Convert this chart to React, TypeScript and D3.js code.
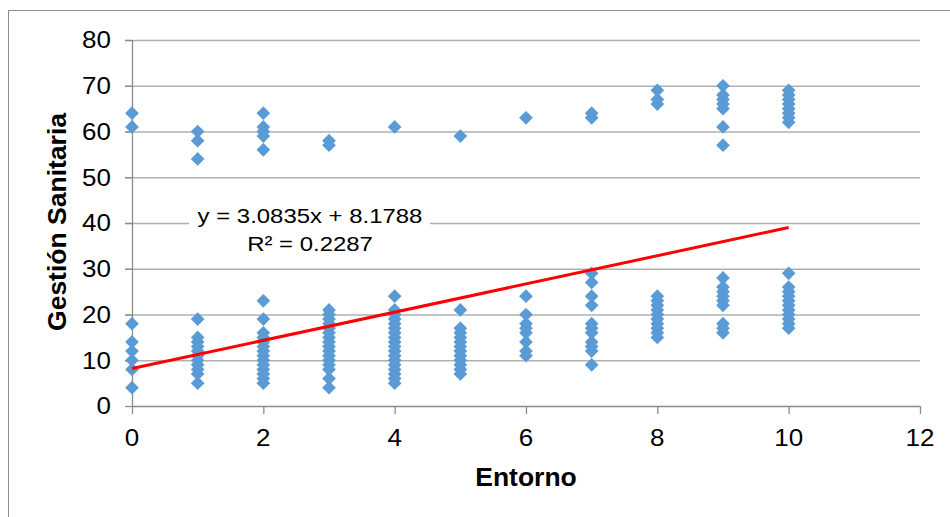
import React from "react";
import * as d3 from "d3";

// Entorno categories (x values)
const entorno = [0, 1, 2, 3, 4, 5, 6, 7, 8, 9, 10];

// Gestión Sanitaria values, low cluster per x
const gestionLow: number[][] = [
  [18, 14, 12, 10, 8, 4],
  [19, 15, 14, 13, 12, 11, 10, 9, 8, 7, 5],
  [23, 19, 16, 15, 14, 13, 12, 11, 10, 9, 8, 7, 6, 5],
  [21, 20, 19, 18, 17, 16, 15, 14, 13, 12, 11, 10, 9, 8, 6, 4],
  [24, 21, 20, 19, 18, 17, 16, 15, 14, 13, 12, 11, 10, 9, 8, 7, 6, 5],
  [21, 17, 16, 15, 14, 13, 12, 11, 10, 9, 8, 7],
  [24, 20, 18, 17, 16, 14, 12, 11],
  [29, 27, 24, 22, 18, 17, 16, 14, 13, 12, 9],
  [24, 23, 22, 21, 20, 19, 18, 17, 16, 15],
  [28, 26, 25, 24, 23, 22, 18, 17, 16],
  [29, 26, 25, 24, 23, 22, 21, 20, 19, 18, 17],
];

// Gestión Sanitaria values, high cluster per x
const gestionHigh: number[][] = [
  [64, 61],
  [60, 58, 54],
  [64, 61, 60, 59, 56],
  [58, 57],
  [61],
  [59],
  [63],
  [64, 63],
  [69, 67, 66],
  [70, 68, 67, 66, 65, 61, 57],
  [69, 68, 67, 66, 65, 64, 63, 62],
];

// Trendline (linear) reported by the chart
const slope = 3.0835;
const intercept = 8.1788;
const rSquared = 0.2287;
const trendRange = [0, 10];

const xTicks = [0, 2, 4, 6, 8, 10, 12];
const yTicks = [0, 10, 20, 30, 40, 50, 60, 70, 80];

const W = 950;
const H = 517;

export default function App() {
  const x = d3.scaleLinear().domain([0, 12]).range([132, 920]);
  const y = d3.scaleLinear().domain([0, 80]).range([406, 40]);

  const points: { xv: number; yv: number }[] = [];
  entorno.forEach((xv, i) => {
    gestionLow[i].forEach((yv) => points.push({ xv, yv }));
    gestionHigh[i].forEach((yv) => points.push({ xv, yv }));
  });

  const diamond = d3.symbol().type(d3.symbolDiamond2).size(120)();
  const line = d3
    .line<number>()
    .x((d) => x(d))
    .y((d) => y(slope * d + intercept));

  const font = "'Liberation Sans', Arial, sans-serif";
  const sx = 1.13;

  return (
    <svg
      width={W}
      height={H}
      style={{ position: "absolute", left: 0, top: 0, background: "#fff" }}
      fontFamily={font}
    >
      <rect x={8.5} y={10.5} width={1000} height={600} fill="#fff" stroke="#8c8c8c" strokeWidth={1} />
      {yTicks.map((t) => (
        <g key={"y" + t}>
          {t > 0 && (
            <line x1={125} x2={x(12)} y1={y(t) + 0.5} y2={y(t) + 0.5} stroke="#b0b0b0" strokeWidth={1.3} />
          )}
          <line x1={125} x2={x(0)} y1={y(t) + 0.5} y2={y(t) + 0.5} stroke="#8c8c8c" strokeWidth={1.3} />
          <text
            transform={`translate(111,${y(t) + 8.3}) scale(${sx},1)`}
            textAnchor="end"
            fontSize={23}
            fill="#000"
          >
            {t}
          </text>
        </g>
      ))}
      <line x1={x(0) + 0.5} x2={x(0) + 0.5} y1={y(80)} y2={y(0)} stroke="#8c8c8c" strokeWidth={1.3} />
      <line x1={x(0)} x2={x(12)} y1={y(0) + 0.5} y2={y(0) + 0.5} stroke="#8c8c8c" strokeWidth={1.3} />
      {xTicks.map((t) => (
        <g key={"x" + t}>
          <line x1={x(t) + 0.5} x2={x(t) + 0.5} y1={y(0)} y2={y(0) + 8} stroke="#8c8c8c" strokeWidth={1.3} />
          <text
            transform={`translate(${x(t)},446) scale(${sx},1)`}
            textAnchor="middle"
            fontSize={23}
            fill="#000"
          >
            {t}
          </text>
        </g>
      ))}
      {points.map((p, i) => (
        <path key={i} d={diamond!} transform={`translate(${x(p.xv)},${y(p.yv)})`} fill="#5b9bd5" />
      ))}
      <path d={line(trendRange) || ""} stroke="#ff0000" strokeWidth={3} fill="none" />
      <rect x={189} y={200} width={241} height={54} fill="#fff" />
      <text transform={`translate(310,223) scale(1.14,1)`} textAnchor="middle" fontSize={21} fill="#000">
        {`y = ${slope}x + ${intercept}`}
      </text>
      <text transform={`translate(310,251) scale(1.14,1)`} textAnchor="middle" fontSize={21} fill="#000">
        {`R² = ${rSquared}`}
      </text>
      <text x={526} y={486} textAnchor="middle" fontSize={26.5} fontWeight="bold" fill="#000">
        Entorno
      </text>
      <text
        transform={`translate(66,222) rotate(-90)`}
        textAnchor="middle"
        fontSize={26.5}
        fontWeight="bold"
        fill="#000"
      >
        Gestión Sanitaria
      </text>
    </svg>
  );
}
